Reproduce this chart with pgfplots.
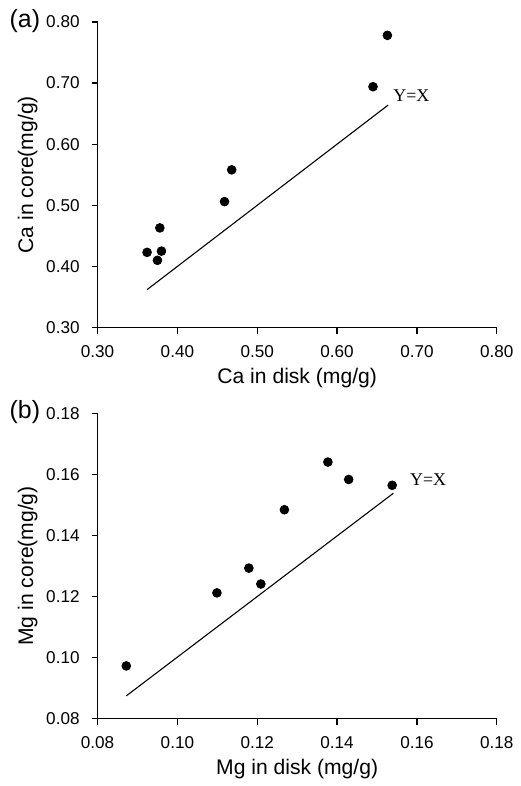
\documentclass[border=0pt]{standalone}
\usepackage{fontspec}
\setmainfont{Liberation Sans}
\newfontfamily\timesfont{Liberation Serif}
\usepackage{pgfplots}
\pgfplotsset{compat=1.18}

\pgfplotsset{
  panel/.style={
    scale only axis,
    width=200.5pt, height=153.5pt,
    axis x line*=bottom, axis y line*=left,
    axis line style={line width=0.6pt, -},
    tick align=outside, major tick length=3pt,
    tick style={line width=0.6pt, black},
    minor tick num=0,
    /pgf/number format/assume math mode=true,
    /pgf/number format/.cd, fixed, fixed zerofill, precision=2,
    /pgfplots/.cd,
    tick label style={font=\fontsize{8.6}{10}\selectfont},
    yticklabel style={xshift=-2.5pt},
    xticklabel style={yshift=-2.5pt},
    label style={font=\fontsize{10.6}{12}\selectfont},
    xlabel style={at={(axis description cs:0.5,-0.166)}, anchor=center},
    ylabel style={at={(axis description cs:-0.175,0.5)}, anchor=center},
    clip=false,
  },
  dots/.style={only marks, mark=*, mark size=2.2pt, mark options={fill=black, draw=black}},
  yx/.style={black, line width=0.55pt, no marks},
}

\begin{document}
\begin{tikzpicture}
% panel (a): Ca
\begin{axis}[panel,
  at={(0,0)}, anchor=south west,
  xmin=0.30, xmax=0.80, ymin=0.30, ymax=0.80,
  xtick={0.30,0.40,...,0.80}, ytick={0.30,0.40,...,0.80},
  xlabel={Ca in disk (mg/g)}, ylabel={Ca in core(mg/g)}]
\addplot[dots] coordinates {
  (0.362,0.423) (0.375,0.410) (0.378,0.463) (0.380,0.425)
  (0.459,0.506) (0.468,0.558) (0.645,0.694) (0.663,0.778)
};
\addplot[yx] coordinates {(0.362,0.362) (0.664,0.664)};
\node[font=\timesfont\fontsize{9}{10}\selectfont] at (axis cs:0.693,0.679) {Y=X};
\node[font=\fontsize{12.5}{14}\selectfont] at ([xshift=-36.5pt,yshift=0.5pt]rel axis cs:0,1) {(a)};
\end{axis}
% panel (b): Mg
\begin{axis}[panel,
  at={(0,-196.5pt)}, anchor=south west,
  xmin=0.08, xmax=0.18, ymin=0.08, ymax=0.18,
  xtick={0.08,0.10,...,0.18}, ytick={0.08,0.10,...,0.18},
  xlabel={Mg in disk (mg/g)}, ylabel={Mg in core(mg/g)}]
\addplot[dots] coordinates {
  (0.0872,0.0973) (0.1099,0.1212) (0.1179,0.1293) (0.1209,0.1241)
  (0.1268,0.1484) (0.1377,0.1640) (0.1429,0.1583) (0.1538,0.1564)
};
\addplot[yx] coordinates {(0.0872,0.0875) (0.1541,0.1538)};
\node[font=\timesfont\fontsize{9}{10}\selectfont] at (axis cs:0.1628,0.1582) {Y=X};
\node[font=\fontsize{12.5}{14}\selectfont] at ([xshift=-36.5pt,yshift=0.5pt]rel axis cs:0,1) {(b)};
\end{axis}
\path (-49pt,164.5pt) rectangle (210pt,-228.5pt);
\end{tikzpicture}
\end{document}
